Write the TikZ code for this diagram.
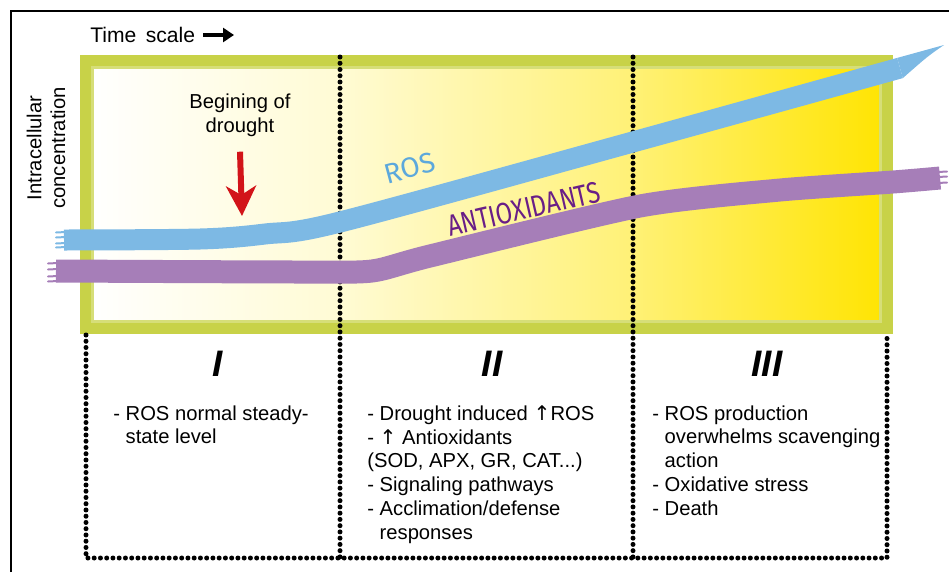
\documentclass[tikz,border=0pt]{standalone}
\usepackage{fontspec}
\setmainfont{Liberation Sans}
\newfontfamily\handfont{Fira Sans}
\newfontfamily\symfont{DejaVu Sans}
\usepackage{xcolor}
\usetikzlibrary{positioning, arrows.meta, calc}

\definecolor{frameolive}{RGB}{200,210,72}
\definecolor{framelight}{RGB}{214,222,120}
\definecolor{rosblue}{RGB}{125,185,228}
\definecolor{rostext}{RGB}{92,168,220}
\definecolor{antipurple}{RGB}{166,126,184}
\definecolor{antitext}{RGB}{105,30,135}
\definecolor{droughtred}{RGB}{210,20,25}
\definecolor{paleyellow}{RGB}{255,251,212}
\definecolor{midyellow}{RGB}{255,241,118}
\definecolor{deepyellow}{RGB}{255,228,0}

\newcommand{\dashgap}{\phantom{-\ }}
\newcommand{\upar}{{\symfont\char"2191}}

\tikzset{
  bodytext/.style={font=\fontsize{11.5}{13.6}\selectfont, align=left, inner sep=0pt},
  stagenum/.style={font=\fontsize{21}{24}\selectfont\bfseries\itshape, inner sep=0pt},
  dotline/.style={line width=0.1cm, line cap=round, dash pattern=on 0pt off 0.125cm},
  brush/.style={line width=#1, line cap=butt, line join=round},
  bristle/.style={line width=0.04cm, line cap=round},
  droparrow/.style={-{Stealth[length=0.6cm, width=0.6cm, inset=0.18cm]},
    line width=0.12cm, draw=droughtred, fill=droughtred},
  timearrow/.style={-{Triangle[length=0.22cm, width=0.28cm]}, line width=0.07cm}
}

\begin{document}
\begin{tikzpicture}[x=0.02cm, y=-0.02cm]
\useasboundingbox (0,0) rectangle (949,572);

%% Outer frame
\draw[line width=0.04cm] (11,572) -- (11,11) -- (949,11);

%% Yellow plot area
\shade[left color=white, right color=paleyellow] (86,61) rectangle (340,328);
\shade[left color=paleyellow, right color=midyellow] (340,61) rectangle (633,328);
\shade[left color=midyellow, right color=deepyellow] (633,61) rectangle (887,328);
\draw[frameolive, line width=0.24cm] (86,61) rectangle (887,328);
\draw[framelight, line width=0.05cm] (92.5,67.5) rectangle (880.5,321.5);

%% Stage dividers and lower box
\draw[dotline] (86,335) -- (86,558) -- (887,558) -- (887,335);
\foreach \x in {340,633}
  \draw[dotline] (\x,57) -- (\x,558);

%% Concentration curves
\draw[brush=0.42cm, rosblue] plot[smooth, tension=0.5] coordinates
  {(64,240) (200,239) (265,234) (340,222) (640,140) (900,68)};
\fill[rosblue] (897.2,57.9) -- (944,45) .. controls (928,56) .. (902.8,78.1) -- cycle;
\foreach \y in {232,237,243,247}
  \draw[bristle, rosblue] (66,\y) -- (56,\y+0.5);
\draw[brush=0.46cm, antipurple] plot[smooth, tension=0.4] coordinates
  {(56,271) (300,272) (372,271) (430,256) (640,206) (780,190) (893,182) (940,178)};
\foreach \y in {263,269,276,281}
  \draw[bristle, antipurple] (58,\y) -- (48,\y+0.5);
\foreach \y in {172,177,183}
  \draw[bristle, antipurple] (938,\y) -- (947,\y-0.5);

\node[font=\handfont\fontsize{16}{18}\selectfont, text=rostext, rotate=15, inner sep=0pt] (roslabel) at (410,168) {ROS};
\node[font=\handfont\fontsize{17}{19}\selectfont, text=antitext, rotate=13, xscale=0.8, inner sep=0pt] (antilabel) at (524,209) {ANTIOXIDANTS};

%% Axis labels
\node[font=\fontsize{12}{14}\selectfont, anchor=west, inner sep=0pt] (timescale) at (90,35) {Time\, scale};
\coordinate (timeend) at (234,35);
\draw[timearrow] ([xshift=0.16cm]timescale.east) -- (timeend);
\node[bodytext, align=center, rotate=90] (yaxis) at (46,148) {Intracellular\\concentration};

%% Onset of drought
\node[bodytext, align=center] (onset) at (240,115) {Begining of\\drought};
\coordinate (droptip) at (242,216);
\draw[droparrow] ([yshift=-0.3cm]onset.south) -- (droptip);

%% Stages
\node[stagenum] (stageI) at (218,364) {I};
\node[stagenum] (stageII) at (492,364) {II};
\node[stagenum] (stageIII) at (767,364) {III};

\node[bodytext, anchor=north west] (textI) at (113,405)
  {- ROS normal steady-\\\dashgap state level};
\node[bodytext, anchor=north west] (textII) at (367,405)
  {- Drought induced \upar ROS\\- \upar\ Antioxidants\\(SOD, APX, GR, CAT...)\\- Signaling pathways\\- Acclimation/defense\\\dashgap responses};
\node[bodytext, anchor=north west] (textIII) at (652,405)
  {- ROS production\\\dashgap overwhelms scavenging\\\dashgap action\\- Oxidative stress\\- Death};
\end{tikzpicture}
\end{document}
